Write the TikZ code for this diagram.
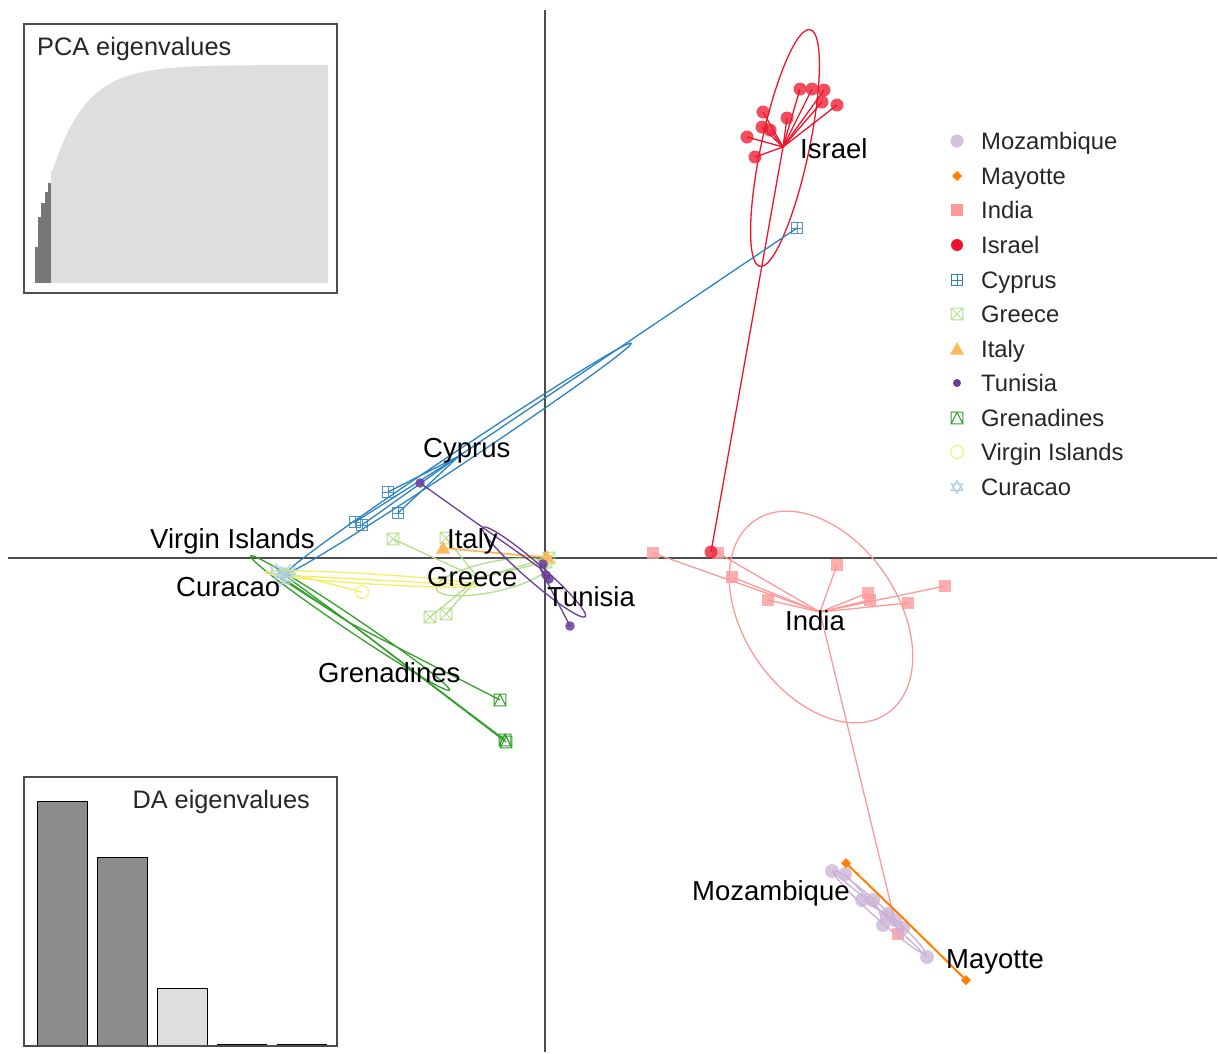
\documentclass[tikz,border=0pt]{standalone}
\usepackage{fontspec}
\setmainfont{Liberation Sans}
\definecolor{mozc}{HTML}{CAB2D6}
\definecolor{mayc}{HTML}{FF7F00}
\definecolor{indc}{HTML}{FB9A99}
\definecolor{isrc}{HTML}{F0142A}
\definecolor{cypc}{HTML}{2B84C2}
\definecolor{grec}{HTML}{B2DF8A}
\definecolor{itac}{HTML}{FDB860}
\definecolor{tunc}{HTML}{6A3D9A}
\definecolor{grnc}{HTML}{33A02C}
\definecolor{vic}{HTML}{F3EF60}
\definecolor{curc}{HTML}{A6CEE3}
\definecolor{axc}{HTML}{4D4D4D}
\definecolor{darkbar}{HTML}{8C8C8C}
\definecolor{lightbar}{HTML}{DEDEDE}
\begin{document}
\begin{tikzpicture}[x=1pt,y=-1pt,
  lab/.style={font=\fontsize{27.5}{30}\selectfont, inner sep=0pt, anchor=base west},
  leg/.style={font=\fontsize{23.8}{26}\selectfont, inner sep=0pt, anchor=base west, text=black!85},
  ins/.style={font=\fontsize{25.3}{28}\selectfont, inner sep=0pt, text=black!85},
  axisline/.style={draw=axc, line width=1.4pt},
  grp/.style={draw=#1, line width=1.3pt},
  mk/.style={color=#1, line width=1pt},
  dotp/.pic={\fill (0pt,0pt) circle (#1);},
  sqfill/.pic={\fill (-5.8pt,-5.8pt) rectangle (5.8pt,5.8pt);},
  sqplus/.pic={\draw (-5.8pt,-5.8pt) rectangle (5.8pt,5.8pt) (-5.8pt,0pt)--(5.8pt,0pt) (0pt,-5.8pt)--(0pt,5.8pt);},
  sqcross/.pic={\draw (-5.8pt,-5.8pt) rectangle (5.8pt,5.8pt) (-5.8pt,-5.8pt)--(5.8pt,5.8pt) (-5.8pt,5.8pt)--(5.8pt,-5.8pt);},
  sqtri/.pic={\draw (-5.8pt,-5.8pt) rectangle (5.8pt,5.8pt) (-5.8pt,-5.8pt)--(0pt,5.8pt)--(5.8pt,-5.8pt);},
  tri/.pic={\fill (-7pt,-5.5pt)--(7pt,-5.5pt)--(0pt,7pt)--cycle;},
  diam/.pic={\fill (-5pt,0pt)--(0pt,5pt)--(5pt,0pt)--(0pt,-5pt)--cycle;},
  ocirc/.pic={\draw (0pt,0pt) circle (6.5pt);},
  david/.pic={\draw (90:6.5pt)--(210:6.5pt)--(330:6.5pt)--cycle (270:6.5pt)--(30:6.5pt)--(150:6.5pt)--cycle;}
]
\fill[white] (0,0) rectangle (1218,1053);
\useasboundingbox (0,0) rectangle (1218,1053);

% axes
\draw[axisline] (545,10) -- (545,1052);
\draw[axisline] (8,558) -- (1217,558);

% centroids
\coordinate (isrC) at (783,147);
\coordinate (cypC) at (459,456);
\coordinate (tunC) at (540,568);
\coordinate (itaC) at (530,556);
\coordinate (greC) at (478,578);
\coordinate (viC) at (300,576);
\coordinate (curC) at (283,574);
\coordinate (grnC) at (350,623);
\coordinate (indC) at (820,612);
\coordinate (mozC) at (879,910);
\coordinate (mayC) at (906,921);

% ---- India
\draw[grp=indc] (821,617) circle[x radius=117pt, y radius=77pt, rotate=-55.5];
\foreach \x/\y in {653/553,718/553,732/577,768/600,837/565,868/593,870/600,908/603,945/586,898/934}
  \draw[grp=indc] (indC) -- (\x,\y);
\foreach \x/\y in {653/553,718/553,732/577,768/600,837/565,868/593,870/600,908/603,945/586,898/934}
  \pic[mk=indc, opacity=.8] at (\x,\y) {sqfill};

% ---- Mozambique
\draw[grp=mozc] (879,912) circle[x radius=62pt, y radius=6pt, rotate=-42];
\foreach \x/\y in {832/871,845/874,862/900,873/900,888/914,883/925,903/928,927/957,895/920}
  \draw[grp=mozc] (mozC) -- (\x,\y);
\foreach \x/\y in {832/871,845/874,862/900,873/900,888/914,883/925,903/928,927/957,895/920}
  \pic[mk=mozc, opacity=.75] at (\x,\y) {dotp=7pt};

% ---- Mayotte
\draw[draw=mayc, line width=2pt] (mayC) -- (846,863) (mayC) -- (966,980);
\foreach \x/\y in {846/863,966/980}
  \pic[mk=mayc] at (\x,\y) {diam};

% ---- Israel
\draw[grp=isrc] (785,148) circle[x radius=121pt, y radius=24pt, rotate=78];
\foreach \x/\y in {800/89,812/89,824/90,822/102,837/105,763/112,787/118,762/127,770/130,747/137,755/157,711/552}
  \draw[grp=isrc] (isrC) -- (\x,\y);
\foreach \x/\y in {800/89,812/89,824/90,822/102,837/105,763/112,787/118,762/127,770/130,747/137,755/157,711/552}
  \pic[mk=isrc, opacity=.75] at (\x,\y) {dotp=6.5pt};

% ---- Cyprus
\draw[grp=cypc] (459,458) circle[x radius=207pt, y radius=7pt, rotate=33.7];
\foreach \x/\y in {797/228,388/492,398/513,355/522,362/525}
  \draw[grp=cypc] (cypC) -- (\x,\y);
\foreach \x/\y in {797/228,388/492,398/513,355/522,362/525}
  \pic[mk=cypc, opacity=.85] at (\x,\y) {sqplus};

% ---- Greece
\draw[grp=grec] (492,577) circle[x radius=57pt, y radius=15pt, rotate=12];
\foreach \x/\y in {393/539,446/538,430/617,446/614,549/558,546/562}
  \draw[grp=grec] (greC) -- (\x,\y);
\foreach \x/\y in {393/539,446/538,430/617,446/614,549/558,546/562}
  \pic[mk=grec] at (\x,\y) {sqcross};

% ---- Italy
\draw[grp=itac, line width=1.8pt] (itaC) -- (443,548) (itaC) -- (547,557);
\foreach \x/\y in {443/548,547/557}
  \pic[mk=itac] at (\x,\y) {tri};

% ---- Tunisia
\draw[grp=tunc] (534,572) circle[x radius=68pt, y radius=9pt, rotate=-41];
\foreach \x/\y in {420/483,570/626,546/575,543/564,549/579}
  \draw[grp=tunc] (tunC) -- (\x,\y);
\foreach \x/\y in {420/483,570/626,546/575,543/564,549/579}
  \pic[mk=tunc, opacity=.85] at (\x,\y) {dotp=4.8pt};

% ---- Grenadines
\draw[grp=grnc] (350,623) circle[x radius=120pt, y radius=7pt, rotate=-34];
\foreach \x/\y in {283/574,280/578,287/581,500/700,505/740,506/742}
  \draw[grp=grnc] (grnC) -- (\x,\y);
\foreach \x/\y in {500/700,505/740,506/742}
  \pic[mk=grnc] at (\x,\y) {sqtri};

% ---- Virgin Islands
\draw[grp=vic] (372,579) circle[x radius=107pt, y radius=5pt, rotate=-3.5];
\foreach \x/\y in {283/572,287/577,362/592,470/585}
  \draw[grp=vic] (viC) -- (\x,\y);
\pic[mk=vic] at (362,592) {ocirc};
\pic[mk=vic] at (285,575) {ocirc};

% ---- Curacao
\foreach \x/\y in {276/570,283/574,290/571,280/580,289/578}
  \draw[grp=curc] (curC) -- (\x,\y);
\foreach \x/\y in {276/570,283/574,290/571,280/580,289/578}
  \pic[mk=curc, opacity=.8] at (\x,\y) {david};

% ---- group labels
\node[lab] (lIsr) at (800,158) {Israel};
\node[lab] (lCyp) at (423,457) {Cyprus};
\node[lab] (lVI) at (150,548) {Virgin Islands};
\node[lab] (lCur) at (176,596) {Curacao};
\node[lab] (lIta) at (447,548) {Italy};
\node[lab] (lGre) at (427,586) {Greece};
\node[lab] (lTun) at (547,606) {Tunisia};
\node[lab] (lGrn) at (318,682) {Grenadines};
\node[lab] (lInd) at (785,630) {India};
\node[lab] (lMoz) at (692,900) {Mozambique};
\node[lab] (lMay) at (946,968) {Mayotte};

% ---- legend
\pic[mk=mozc, opacity=.8] at (957,141) {dotp=6.5pt};
\pic[mk=mayc] at (957,176) {diam};
\pic[mk=indc] at (957,210) {sqfill};
\pic[mk=isrc] at (957,245) {dotp=6pt};
\pic[mk=cypc] at (957,280) {sqplus};
\pic[mk=grec] at (957,314) {sqcross};
\pic[mk=itac] at (957,349) {tri};
\pic[mk=tunc] at (957,383) {dotp=4pt};
\pic[mk=grnc] at (957,418) {sqtri};
\pic[mk=vic] at (957,452) {ocirc};
\pic[mk=curc] at (957,487) {david};
\node[leg] (g1) at (981,149.5) {Mozambique};
\node[leg] (g2) at (981,184.5) {Mayotte};
\node[leg] (g3) at (981,218.5) {India};
\node[leg] (g4) at (981,253.5) {Israel};
\node[leg] (g5) at (981,288.5) {Cyprus};
\node[leg] (g6) at (981,322.5) {Greece};
\node[leg] (g7) at (981,357.5) {Italy};
\node[leg] (g8) at (981,391.5) {Tunisia};
\node[leg] (g9) at (981,426.5) {Grenadines};
\node[leg] (g10) at (981,460.5) {Virgin Islands};
\node[leg] (g11) at (981,495.5) {Curacao};

% ---- PCA eigenvalues inset
\fill[white] (24,24) rectangle (337,293);
\fill[lightbar] (51,283) -- (51,172) -- plot[domain=53:328, samples=120] (\x, {65+105*exp(-(\x-53)/33)}) -- (328,283) -- cycle;
\fill[darkbar!85!black] (35,247) rectangle (38.2,283);
\fill[darkbar!85!black] (38.2,217) rectangle (41.4,283);
\fill[darkbar!85!black] (41.4,203) rectangle (44.6,283);
\fill[darkbar!85!black] (44.6,192) rectangle (47.8,283);
\fill[darkbar!85!black] (47.8,183) rectangle (51,283);
\draw[draw=axc, line width=1.4pt] (24,24) rectangle (337,293);
\node[ins, anchor=base west] (pcat) at (37,55) {PCA eigenvalues};

% ---- DA eigenvalues inset
\fill[white] (24,777) rectangle (337,1046);
\draw[fill=darkbar, line width=0.9pt] (37,801) rectangle (87,1045);
\draw[fill=darkbar, line width=0.9pt] (97,857) rectangle (147,1045);
\draw[fill=lightbar, line width=0.9pt] (157,988) rectangle (207,1045);
\draw[line width=0.9pt] (217,1044.5) -- (267,1044.5) (277,1044.5) -- (327,1044.5);
\draw[draw=axc, line width=1.4pt] (24,777) rectangle (337,1046);
\node[ins, anchor=base east] (dat) at (310,808) {DA eigenvalues};
\end{tikzpicture}
\end{document}
